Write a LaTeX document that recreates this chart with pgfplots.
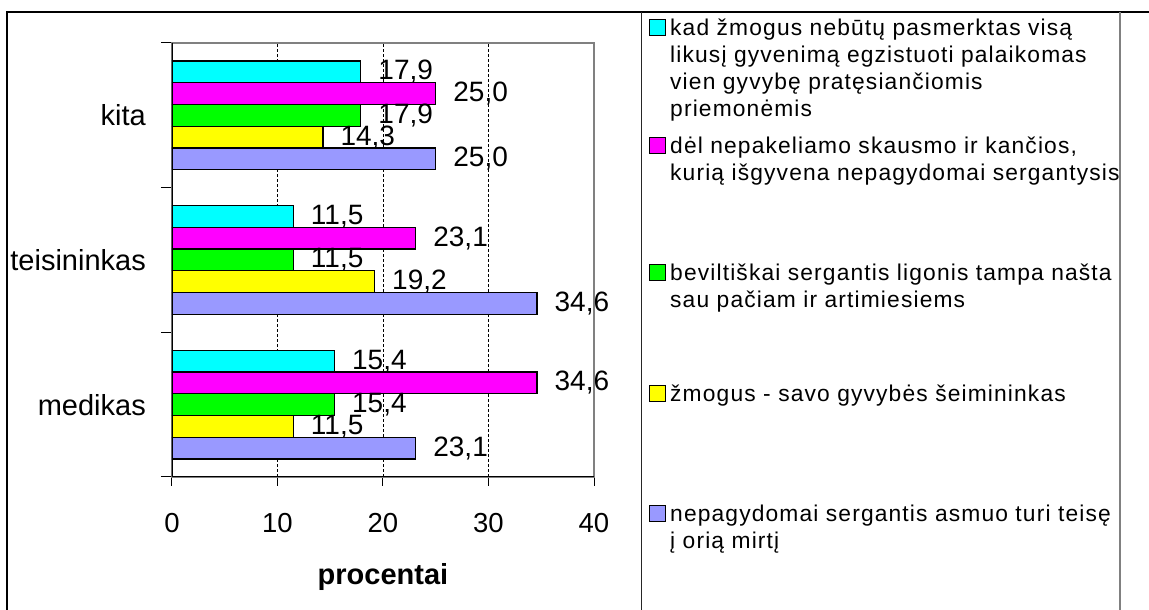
\documentclass[border=0pt]{standalone}
\usepackage{fontspec}
\setmainfont{Liberation Sans}
\newfontfamily\legfont[LetterSpace=5]{Liberation Sans}
\usepackage{pgfplots}
\pgfplotsset{compat=1.18}

\definecolor{bcyan}{RGB}{0,255,255}
\definecolor{bmag}{RGB}{255,0,255}
\definecolor{bgreen}{RGB}{0,255,0}
\definecolor{byellow}{RGB}{255,255,0}
\definecolor{blav}{RGB}{153,153,255}

% legend square at row centre #2 (px from top), text lines at baselines
\newcommand{\legsq}[2]{\draw[fill=#1, line width=1pt] (649.5pt,{610pt-#2pt-8pt}) rectangle (665.5pt,{610pt-#2pt+8pt});}
\newcommand{\legline}[2]{\node[anchor=base west, inner sep=0pt, font=\legfont\fontsize{22.8}{26}\selectfont] at (670pt,{610pt-#1pt}) {#2};}

\begin{document}
\begin{tikzpicture}
\useasboundingbox (0pt,0pt) rectangle (1149pt,610pt);

% outer frame and legend box
\draw[line width=2pt] (7.3pt,0pt) -- (7.3pt,597.7pt) -- (1149pt,597.7pt);
\draw[line width=1.5pt, black!85] (641.7pt,0pt) -- (641.7pt,597.7pt);
\draw[line width=1.5pt, gray] (1120pt,0pt) -- (1120pt,597.7pt);

\begin{axis}[
  at={(172pt,133pt)}, anchor=south west,
  width=422pt, height=434pt, scale only axis,
  xbar=0pt, bar width=21.7pt,
  xmin=0, xmax=40, ymin=0, ymax=3,
  xtick={0,10,20,30,40},
  ytick={0.5,1.5,2.5}, yticklabels={medikas,teisininkas,kita},
  minor ytick={0,1,2,3},
  tick align=outside,
  xtick pos=bottom, ytick pos=left,
  major tick length=9pt, minor tick length=11pt,
  major y tick style={draw=none},
  tick style={black, line width=1pt},
  axis line style={draw=gray, line width=1.5pt},
  xmajorgrids,
  grid style={black, dash pattern=on 3pt off 2pt, line width=0.8pt},
  /pgf/number format/assume math mode=true,
  xticklabel style={font=\fontsize{27.5}{27.5}\selectfont, inner sep=0pt, yshift=-27pt},
  yticklabel style={font=\fontsize{29}{29}\selectfont, inner sep=0pt, xshift=-17pt},
  xlabel={\textbf{procentai}},
  xlabel style={font=\fontsize{29}{29}\selectfont, at={(axis description cs:0.5,-0.2304)}, anchor=center},
  point meta=x,
  nodes near coords,
  every node near coord/.append style={font=\fontsize{28}{28}\selectfont, anchor=west, inner sep=0pt, xshift=17pt,
    /pgf/number format/fixed, /pgf/number format/fixed zerofill,
    /pgf/number format/precision=1, /pgf/number format/use comma},
  every axis plot/.append style={draw=black, line width=1.3pt},
]
% order bottom to top within each group
\addplot[fill=blav] coordinates {(23.1,0.5) (34.6,1.5) (25.0,2.5)};
\addplot[fill=byellow] coordinates {(11.5,0.5) (19.2,1.5) (14.3,2.5)};
\addplot[fill=bgreen] coordinates {(15.4,0.5) (11.5,1.5) (17.9,2.5)};
\addplot[fill=bmag] coordinates {(34.6,0.5) (23.1,1.5) (25.0,2.5)};
\addplot[fill=bcyan] coordinates {(15.4,0.5) (11.5,1.5) (17.9,2.5)};
\draw[black, line width=1.5pt] (rel axis cs:0,1) -- (rel axis cs:0,0) -- (rel axis cs:1,0);
\end{axis}

% legend
\legsq{bcyan}{28}
\legline{36}{kad žmogus nebūtų pasmerktas visą}
\legline{63}{likusį gyvenimą egzistuoti palaikomas}
\legline{90}{vien gyvybę pratęsiančiomis}
\legline{117}{priemonėmis}
\legsq{bmag}{146}
\legline{154}{dėl nepakeliamo skausmo ir kančios,}
\legline{181}{kurią išgyvena nepagydomai sergantysis}
\legsq{bgreen}{273}
\legline{281}{beviltiškai sergantis ligonis tampa našta}
\legline{308}{sau pačiam ir artimiesiems}
\legsq{byellow}{394}
\legline{402}{žmogus - savo gyvybės šeimininkas}
\legsq{blav}{514}
\legline{522}{nepagydomai sergantis asmuo turi teisę}
\legline{549}{į orią mirtį}
\end{tikzpicture}
\end{document}
